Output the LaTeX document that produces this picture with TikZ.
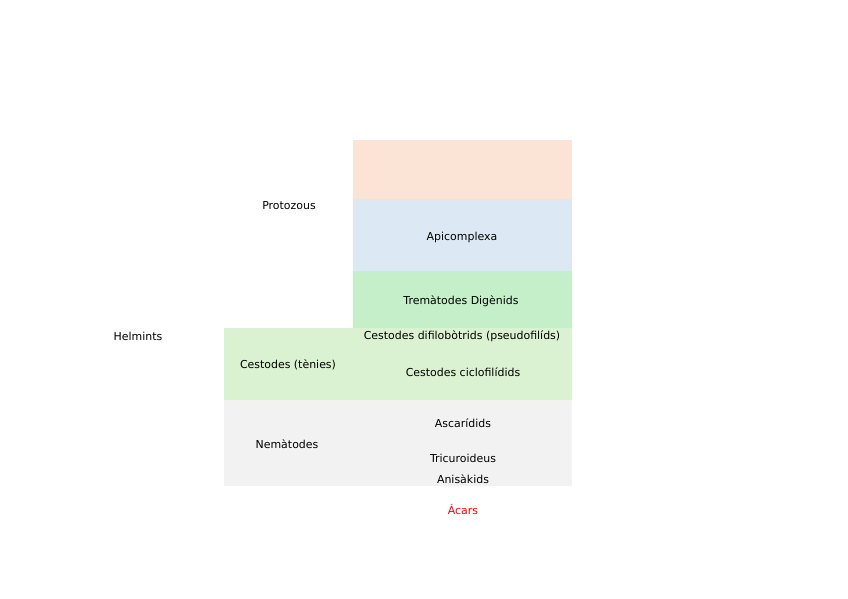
\documentclass[tikz,border=0pt]{standalone}
\usepackage{fontspec}
\setmainfont{DejaVu Sans}
\usepackage{xcolor}
\definecolor{colsalmon}{HTML}{FBE3D6}
\definecolor{colblue}{HTML}{DCE9F5}
\definecolor{colgreen}{HTML}{C4EFC9}
\definecolor{colpale}{HTML}{DAF2D2}
\definecolor{colgray}{HTML}{F2F2F2}
\definecolor{colred}{HTML}{FF0000}

\begin{document}
\begin{tikzpicture}[
  x=1pt, y=-1pt,
  font=\fontsize{10.95}{12}\selectfont,
  band/.style={draw=none},
  lbl/.style={inner sep=0pt,anchor=center},
]
  \useasboundingbox (0,0) rectangle (848,599);
  % ---------------- bandes ----------------
  \fill[band,colsalmon] (353,140) rectangle (572,199);
  \fill[band,colblue]   (353,199) rectangle (572,271);
  \fill[band,colgreen]  (353,271) rectangle (572,328);
  \fill[band,colpale]   (224,328) rectangle (572,400);
  \fill[band,colgray]   (224,400) rectangle (572,486);
  % ---------------- grups ----------------
  \node[lbl] (protozous) at (289,206) {Protozous};
  \node[lbl] (helmints)  at (138,336) {Helmints};
  \node[lbl] (cestodes)  at (288,365) {Cestodes (tènies)};
  \node[lbl] (nematodes) at (287,444) {Nemàtodes};
  % ---------------- subgrups ----------------
  \node[lbl] (apicomplexa) at (462,237) {Apicomplexa};
  \node[lbl] (trematodes)  at (461,301) {Tremàtodes Digènids};
  \node[lbl] (difilo)      at (462,336) {Cestodes difilobòtrids (pseudofilíds)};
  \node[lbl] (ciclo)       at (463,372) {Cestodes ciclofilídids};
  \node[lbl] (ascaridids)  at (463,423) {Ascarídids};
  \node[lbl] (tricuro)     at (463,458) {Tricuroideus};
  \node[lbl] (anisakids)   at (463,479) {Anisàkids};
  \node[lbl,text=colred] (acars) at (463,509) {Ácars};
\end{tikzpicture}
\end{document}
